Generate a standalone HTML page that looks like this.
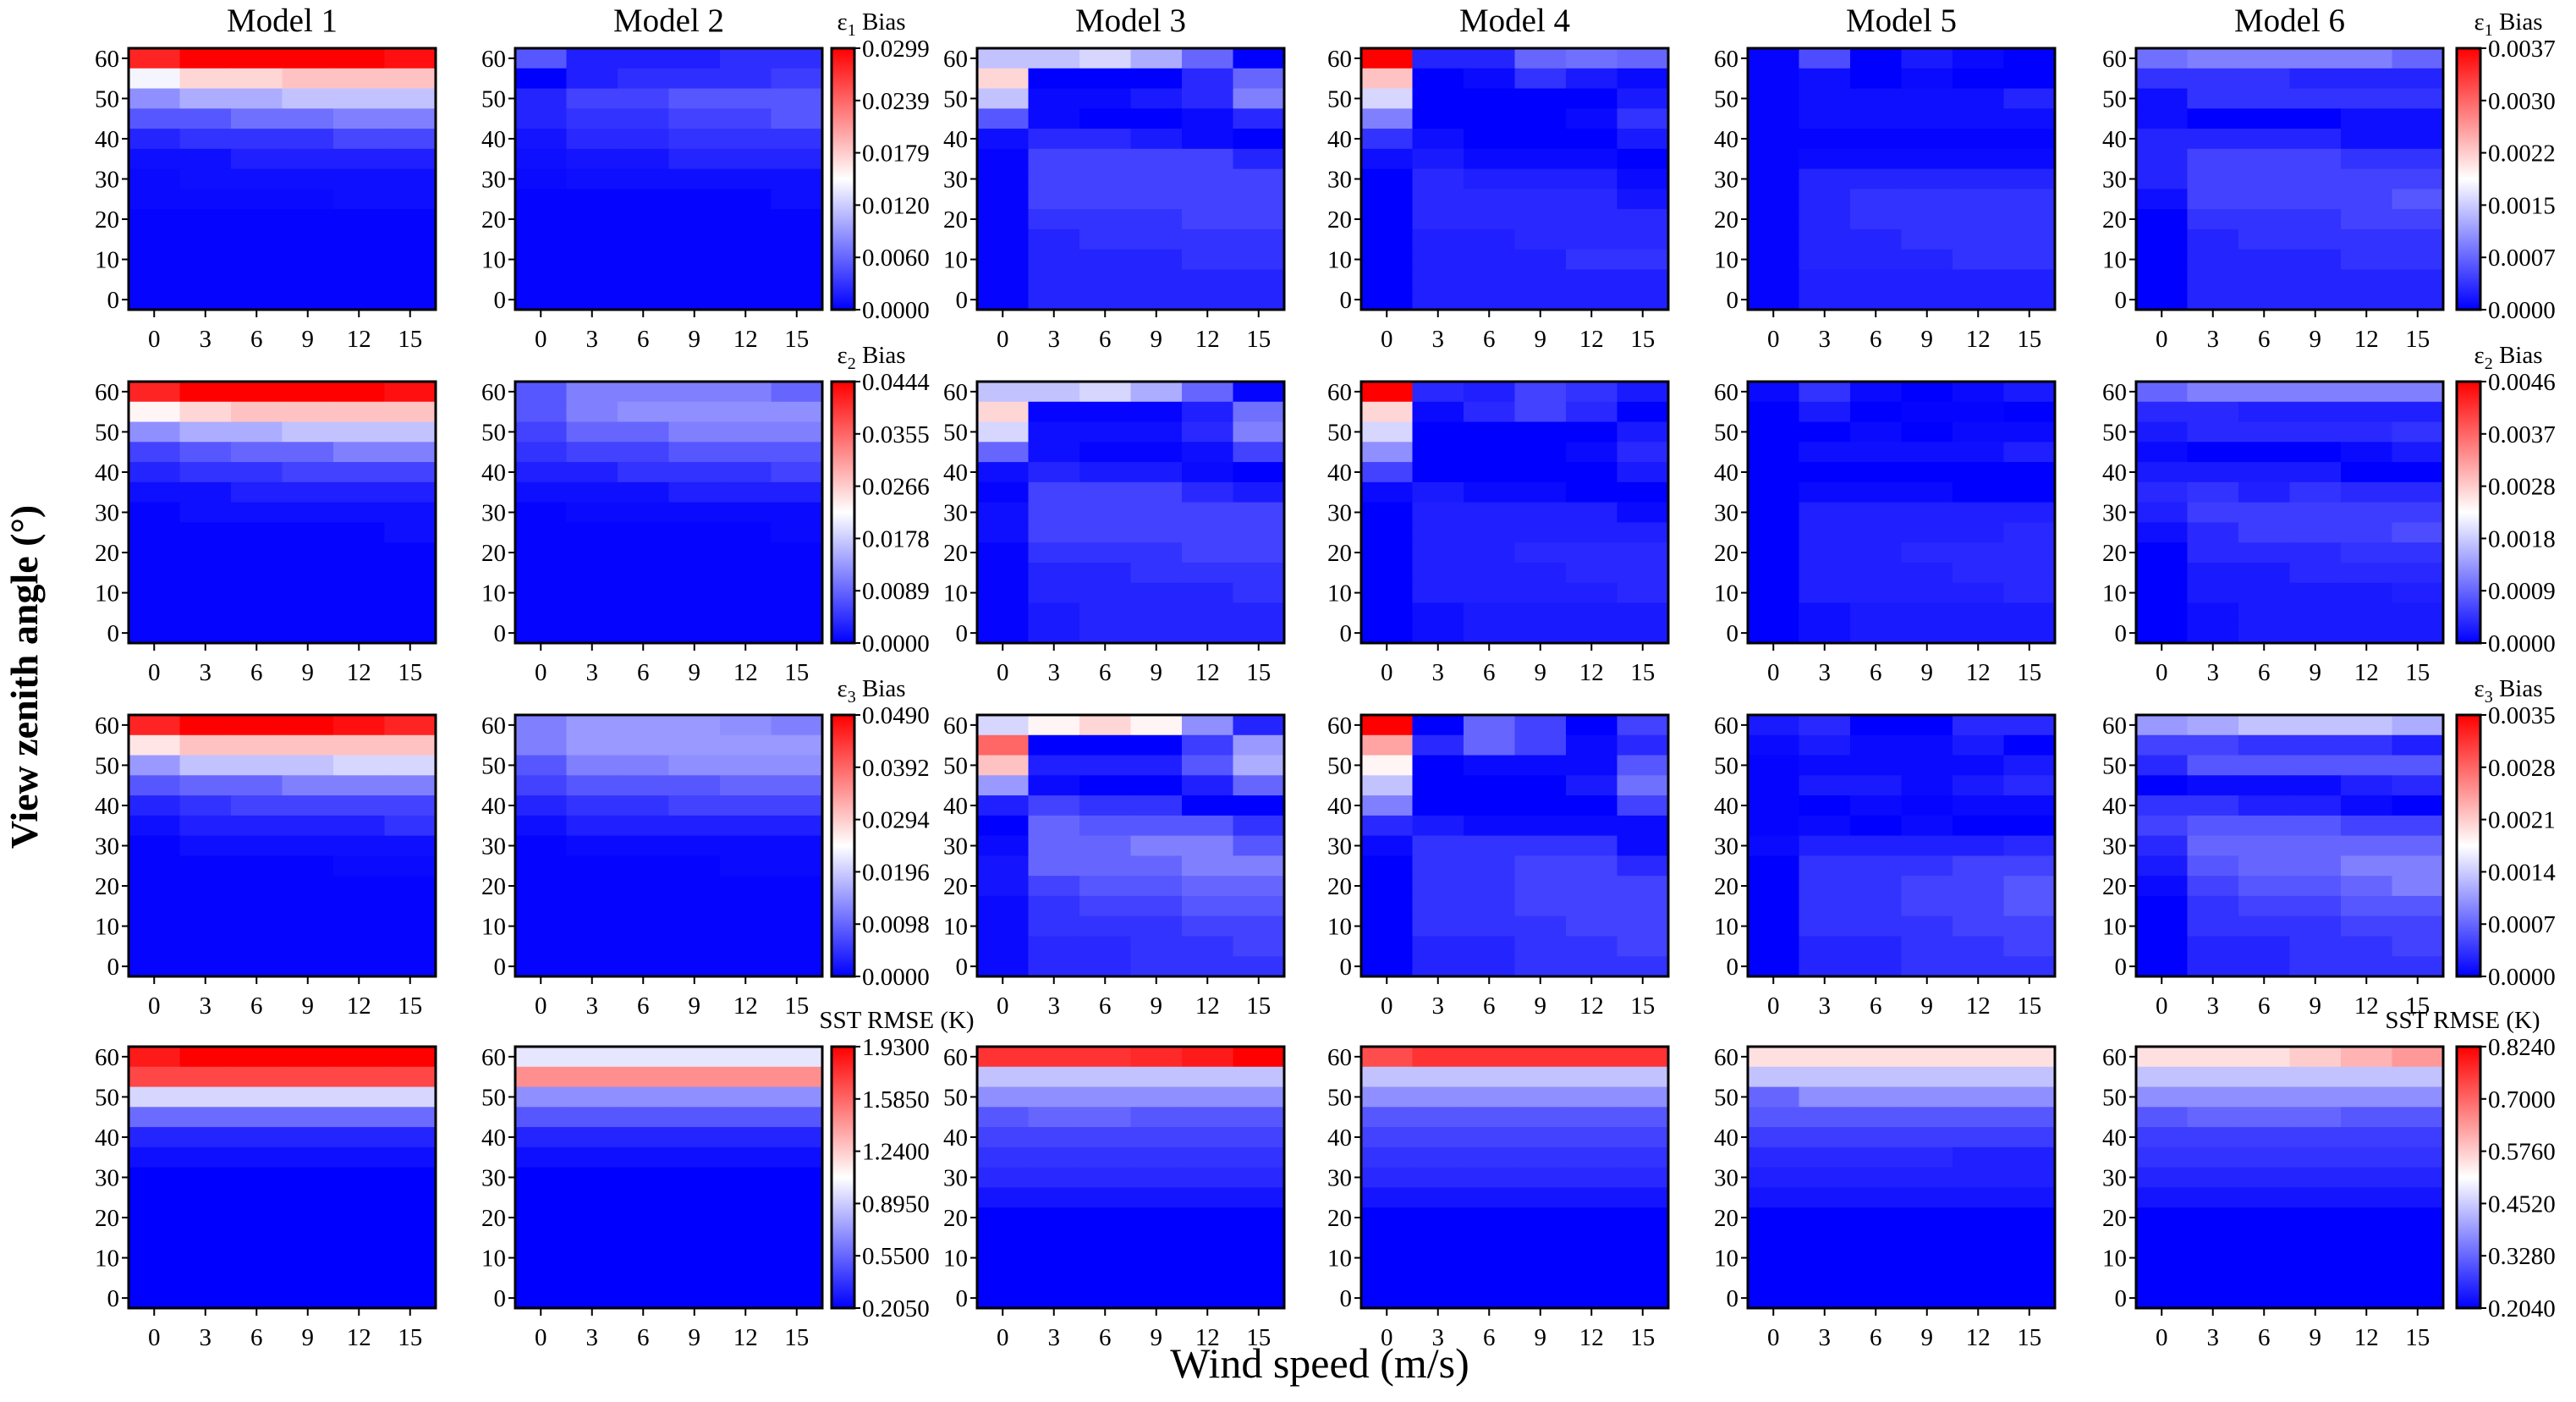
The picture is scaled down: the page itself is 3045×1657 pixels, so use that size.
<!DOCTYPE html>
<html><head><meta charset="utf-8"><style>
html,body{margin:0;padding:0;background:#fff;}
svg{display:block;font-family:"Liberation Serif",serif;}
</style></head><body>
<svg id="fig" width="3045" height="1657" viewBox="0 0 3045 1657" xmlns="http://www.w3.org/2000/svg">
<defs><linearGradient id="bwr" x1="0" y1="1" x2="0" y2="0"><stop offset="0" stop-color="#0000ff"/><stop offset="0.5" stop-color="#ffffff"/><stop offset="1" stop-color="#ff0000"/></linearGradient></defs>
<text x="0" y="0" transform="translate(44,800) rotate(-90)" text-anchor="middle" font-size="46" font-weight="bold">View zenith angle (°)</text>
<text x="1560" y="1628" text-anchor="middle" font-size="50">Wind speed (m/s)</text>
</svg>
<script>
const windTicks=[0,3,6,9,12,15];
const zenithTicks=[60,50,40,30,20,10,0];
const modelNames=["Model 1","Model 2","Model 3","Model 4","Model 5","Model 6"];
const rowTitles=["ε1 Bias","ε2 Bias","ε3 Bias","SST RMSE (K)"];
const leftCbarLabels=[["0.0000","0.0060","0.0120","0.0179","0.0239","0.0299"],["0.0000","0.0089","0.0178","0.0266","0.0355","0.0444"],["0.0000","0.0098","0.0196","0.0294","0.0392","0.0490"],["0.2050","0.5500","0.8950","1.2400","1.5850","1.9300"]];
const rightCbarLabels=[["0.0000","0.0007","0.0015","0.0022","0.0030","0.0037"],["0.0000","0.0009","0.0018","0.0028","0.0037","0.0046"],["0.0000","0.0007","0.0014","0.0021","0.0028","0.0035"],["0.2040","0.3280","0.4520","0.5760","0.7000","0.8240"]];
// normalized values (0=min of colorbar, 1=max); rows from zenith 60 down to 0, columns wind 0..15
const z1=[.01,.01,.01,.01,.01,.01];
const e1=[
[[.93,1,1,1,1,.97],[.48,.58,.58,.62,.62,.62],[.28,.34,.34,.38,.38,.38],[.17,.17,.22,.22,.25,.25],[.07,.1,.1,.1,.14,.14],[.03,.03,.06,.06,.06,.06],[.02,.03,.03,.03,.03,.03],[.02,.02,.02,.02,.03,.03],z1,z1,z1,z1,z1],
[[.17,.06,.06,.06,.09,.09],[0,.06,.09,.09,.09,.12],[.07,.13,.13,.17,.17,.17],[.07,.1,.1,.13,.13,.17],[.04,.08,.08,.1,.1,.1],[.03,.04,.04,.07,.07,.07],[.02,.03,.03,.03,.03,.03],[.01,.01,.01,.01,.01,.03],z1,z1,z1,z1,z1],
[[.38,.38,.42,.34,.2,0],[.58,0,0,0,.08,.2],[.38,.02,.02,.05,.08,.25],[.17,.02,0,0,.02,.08],[.03,.08,.08,.05,.02,0],[.01,.13,.13,.13,.13,.07],[.01,.13,.13,.13,.13,.13],[.01,.13,.13,.13,.13,.13],[.01,.1,.1,.1,.13,.13],[.01,.07,.1,.1,.1,.1],[.01,.07,.07,.07,.1,.1],[.01,.07,.07,.07,.07,.07],[.01,.07,.07,.07,.07,.07]],
[[1,.07,.07,.2,.22,.2],[.62,0,.02,.1,.05,.02],[.42,0,0,0,0,.05],[.25,0,0,0,.02,.1],[.1,.03,0,0,0,.05],[.03,.05,.02,.02,.02,0],[0,.08,.06,.06,.06,.02],[0,.08,.08,.08,.08,.04],[0,.08,.08,.08,.08,.08],[0,.06,.06,.08,.08,.08],[0,.06,.06,.06,.1,.1],[0,.06,.06,.06,.06,.06],[0,.06,.06,.06,.06,.06]],
[[.01,.15,0,.05,.02,0],[.01,.03,0,.02,0,0],[.01,.03,.03,.03,.03,.07],[.01,.03,.03,.03,.03,.03],[.01,.01,.01,.01,.01,.01],[.01,.02,.02,.02,.02,.02],[.01,.07,.07,.07,.07,.07],[.01,.07,.1,.1,.1,.1],[.01,.07,.1,.1,.1,.1],[.01,.07,.07,.1,.1,.1],[.01,.07,.07,.07,.1,.1],[.01,.06,.06,.06,.06,.06],[.01,.06,.06,.06,.06,.06]],
[[.22,.25,.25,.25,.25,.2],[.1,.1,.1,.07,.07,.07],[.03,.1,.1,.1,.1,.1],[.03,0,0,0,.03,.03],[.07,.07,.07,.07,.03,.03],[.07,.13,.13,.13,.1,.1],[.07,.13,.13,.13,.13,.13],[.03,.13,.13,.13,.13,.17],[0,.1,.1,.1,.13,.13],[0,.07,.1,.1,.1,.1],[0,.07,.07,.07,.1,.1],[0,.07,.07,.07,.07,.07],[0,.07,.07,.07,.07,.07]]
];
const e2=[
[[.93,1,1,1,1,.97],[.52,.58,.62,.62,.62,.62],[.28,.34,.34,.38,.38,.38],[.13,.17,.2,.2,.25,.25],[.07,.1,.1,.13,.13,.13],[.03,.03,.06,.06,.06,.06],[.01,.03,.03,.03,.03,.03],[.01,.01,.01,.01,.01,.03],z1,z1,z1,z1,z1],
[[.17,.25,.25,.25,.25,.2],[.17,.25,.28,.28,.28,.28],[.13,.2,.2,.25,.25,.25],[.1,.13,.13,.17,.17,.17],[.06,.06,.1,.1,.1,.13],[.03,.03,.03,.06,.06,.06],[.01,.02,.02,.02,.02,.02],[.01,.01,.01,.01,.01,.02],z1,z1,z1,z1,z1],
[[.38,.38,.42,.34,.2,.01],[.58,.01,.01,.01,.06,.22],[.42,.03,.03,.03,.08,.25],[.2,.03,.01,.01,.03,.13],[.03,.07,.05,.05,.02,0],[.01,.13,.13,.13,.08,.05],[.03,.13,.13,.13,.13,.13],[.03,.13,.13,.13,.13,.13],[.01,.1,.1,.1,.13,.13],[.01,.07,.07,.1,.1,.1],[.01,.07,.07,.07,.07,.1],[.01,.05,.07,.07,.07,.07],[.01,.05,.07,.07,.07,.07]],
[[1,.08,.06,.13,.1,.05],[.58,.02,.08,.13,.08,0],[.42,0,0,0,0,.05],[.28,0,0,0,.02,.08],[.13,0,0,0,0,.05],[.02,.05,.02,.02,0,0],[0,.06,.06,.06,.06,.02],[0,.06,.06,.06,.06,.06],[0,.06,.06,.08,.08,.08],[0,.06,.06,.06,.08,.08],[0,.06,.06,.06,.06,.08],[0,.03,.05,.05,.05,.05],[0,.03,.05,.05,.05,.05]],
[[.02,.1,.02,0,.02,.05],[0,.05,0,.01,.01,0],[0,0,.02,0,.02,.02],[0,.03,.03,.03,.03,.06],[0,0,0,0,0,0],[0,.02,.02,.02,0,0],[0,.06,.06,.06,.06,.06],[0,.06,.06,.06,.06,.08],[0,.06,.06,.08,.08,.08],[0,.06,.06,.06,.08,.08],[0,.06,.06,.06,.06,.08],[0,.03,.05,.05,.05,.05],[0,.03,.05,.05,.05,.05]],
[[.2,.25,.25,.25,.25,.25],[.08,.08,.06,.06,.06,.06],[.05,.08,.08,.08,.08,.1],[.02,0,0,0,.02,.05],[.05,.05,.05,.05,0,0],[.08,.1,.06,.1,.08,.08],[.06,.12,.12,.12,.12,.12],[.03,.08,.12,.12,.12,.15],[0,.08,.08,.08,.1,.1],[0,.05,.05,.08,.08,.08],[0,.05,.05,.05,.05,.06],[0,.03,.05,.05,.05,.05],[0,.03,.05,.05,.05,.05]]
];
const e3=[
[[.93,1,1,1,.97,.93],[.55,.62,.62,.62,.62,.62],[.3,.38,.38,.38,.42,.42],[.17,.2,.2,.25,.25,.25],[.07,.1,.13,.13,.13,.13],[.03,.06,.06,.06,.06,.1],[.01,.03,.03,.03,.03,.03],[.01,.01,.01,.01,.02,.02],z1,z1,z1,z1,z1],
[[.25,.3,.3,.3,.28,.25],[.25,.3,.3,.3,.3,.3],[.17,.25,.25,.28,.28,.28],[.13,.17,.17,.17,.2,.2],[.07,.1,.1,.13,.13,.13],[.03,.06,.06,.06,.06,.06],[.01,.02,.02,.02,.02,.02],[.01,.01,.01,.01,.02,.02],z1,z1,z1,z1,z1],
[[.42,.52,.58,.52,.28,.07],[.8,0,0,0,.12,.3],[.62,.06,.06,.06,.17,.34],[.3,.02,0,0,.06,.2],[.06,.13,.1,.1,0,0],[0,.2,.17,.17,.17,.1],[.02,.2,.2,.25,.25,.17],[.04,.2,.2,.2,.25,.25],[.04,.13,.17,.17,.2,.2],[.02,.1,.13,.13,.17,.17],[.02,.1,.1,.1,.13,.13],[.02,.08,.08,.1,.1,.13],[.02,.08,.08,.1,.1,.1]],
[[1,0,.2,.13,0,.13],[.68,.08,.2,.13,.02,.08],[.52,0,.02,.02,.02,.17],[.38,0,0,0,.05,.22],[.25,0,0,0,0,.13],[.08,.05,.02,.02,.02,.02],[.02,.1,.1,.1,.1,.02],[0,.1,.1,.13,.13,.08],[0,.1,.1,.13,.13,.13],[0,.1,.1,.13,.13,.13],[0,.1,.1,.1,.13,.13],[0,.07,.07,.1,.1,.13],[0,.07,.07,.1,.1,.1]],
[[.05,.08,0,0,.08,.08],[.02,.05,.02,.02,.05,0],[.01,.02,.02,.02,.02,.05],[.01,.05,.05,.02,.05,.08],[.01,0,.02,.01,.02,.02],[.01,.02,0,.02,0,0],[.02,.06,.06,.06,.06,.08],[0,.1,.1,.1,.13,.13],[0,.1,.1,.13,.13,.17],[0,.1,.1,.13,.13,.17],[0,.1,.1,.1,.13,.13],[0,.07,.07,.1,.1,.13],[0,.07,.07,.1,.1,.1]],
[[.3,.33,.38,.38,.38,.34],[.13,.13,.1,.1,.1,.06],[.08,.17,.17,.17,.17,.17],[0,.02,.02,.02,.06,.08],[.1,.1,.06,.06,.02,0],[.13,.17,.17,.17,.13,.13],[.08,.2,.2,.2,.2,.2],[.05,.17,.2,.2,.25,.25],[.02,.13,.17,.17,.2,.25],[0,.1,.13,.13,.17,.17],[0,.1,.1,.1,.13,.13],[0,.07,.07,.1,.1,.13],[0,.07,.07,.1,.1,.1]]
];
const z0=[0,0,0,0,0,0];
const rmse=[
[[.95,1,1,1,1,1],[.86,.86,.86,.86,.86,.86],[.42,.42,.42,.42,.42,.42],[.21,.21,.21,.21,.21,.21],[.07,.07,.07,.07,.07,.07],[.03,.03,.03,.03,.03,.03],z0,z0,z0,z0,z0,z0,z0],
[[.45,.45,.45,.45,.45,.45],[.72,.72,.72,.72,.72,.72],[.28,.28,.28,.28,.28,.28],[.17,.17,.17,.17,.17,.17],[.07,.07,.07,.07,.07,.07],[.03,.03,.03,.03,.03,.03],z0,z0,z0,z0,z0,z0,z0],
[[.9,.9,.9,.92,.95,1],[.38,.38,.38,.38,.38,.38],[.28,.28,.28,.28,.28,.28],[.17,.2,.2,.17,.17,.17],[.13,.13,.13,.13,.13,.13],[.1,.1,.1,.1,.1,.1],[.08,.08,.08,.08,.08,.08],[.04,.04,.04,.04,.04,.04],z0,z0,z0,z0,z0],
[[.85,.9,.9,.9,.9,.9],[.38,.38,.38,.38,.38,.38],[.28,.28,.28,.28,.28,.28],[.17,.17,.17,.17,.17,.17],[.13,.13,.13,.13,.13,.13],[.1,.1,.1,.1,.1,.1],[.08,.08,.08,.08,.08,.08],[.04,.04,.04,.04,.04,.04],z0,z0,z0,z0,z0],
[[.56,.56,.56,.56,.56,.56],[.38,.38,.38,.38,.38,.38],[.2,.28,.28,.28,.28,.28],[.17,.17,.17,.17,.17,.17],[.12,.12,.12,.12,.12,.12],[.08,.08,.08,.08,.06,.06],[.06,.06,.06,.06,.06,.06],[.04,.04,.04,.04,.04,.04],z0,z0,z0,z0,z0],
[[.56,.56,.56,.6,.65,.7],[.38,.38,.38,.38,.38,.38],[.28,.28,.28,.28,.28,.28],[.17,.2,.2,.2,.17,.17],[.12,.12,.12,.12,.12,.12],[.1,.1,.1,.1,.1,.1],[.07,.07,.07,.07,.07,.07],[.04,.04,.04,.04,.04,.04],z0,z0,z0,z0,z0]
];
const allRows=[e1,e2,e3,rmse];

const NS="http://www.w3.org/2000/svg";
const svg=document.getElementById("fig");
const colX=[152,609,1155,1609,2066,2525], PW=363;
const rowY=[57,451,845,1237], PH=309;
const NR=13, NC=6;
function mk(tag,attrs,parent){const e=document.createElementNS(NS,tag);for(const k in attrs)e.setAttribute(k,attrs[k]);(parent||svg).appendChild(e);return e;}
function color(f){f=Math.max(0,Math.min(1,f));let r,g,b;if(f<0.5){r=g=Math.round(f*2*255);b=255;}else{r=255;g=b=Math.round((2-2*f)*255);}return `rgb(${r},${g},${b})`;}
function xScale(c,x0){return x0+c*PW/NC;}
function yScale(zen,y0){return y0+(60-zen)/5*PH/NR;}

allRows.forEach((row,ri)=>{
  row.forEach((panel,pi)=>{
    const x0=colX[pi], y0=rowY[ri];
    const g=mk("g",{});
    
    
    panel.forEach((vals,r)=>{
      const zen=60-r*5;
      vals.forEach((v,c)=>{
        const x=xScale(c,x0), y=yScale(zen,y0);
        const rc=mk("rect",{x:x.toFixed(2),y:y.toFixed(2),width:(PW/NC+0.6).toFixed(2),height:(PH/NR+0.6).toFixed(2),fill:color(v)},g);
        
        
      });
    });
    const fr=mk("rect",{x:x0,y:y0,width:PW,height:PH,fill:"none",stroke:"#000","stroke-width":3},g);
    
    
    zenithTicks.forEach(t=>{
      const y=yScale(t,y0)+PH/NR/2;
      mk("line",{x1:x0-8,x2:x0,y1:y,y2:y,stroke:"#000","stroke-width":2},g);
      const tx=mk("text",{x:x0-11,y:y+10,"text-anchor":"end","font-size":29},g);
      tx.textContent=t;
      
      
    });
    windTicks.forEach((t,c)=>{
      const x=xScale(c,x0)+PW/NC/2;
      mk("line",{x1:x,x2:x,y1:y0+PH,y2:y0+PH+9,stroke:"#000","stroke-width":2},g);
      const tx=mk("text",{x:x,y:y0+PH+44,"text-anchor":"middle","font-size":29},g);
      tx.textContent=t;
      
      
    });
    if(ri===0){
      const tt=mk("text",{x:x0+PW/2,y:y0-20,"text-anchor":"middle","font-size":39},g);
      tt.textContent=modelNames[pi];
      
      
    }
  });
  [[983,leftCbarLabels[ri],27],[2904,rightCbarLabels[ri],28]].forEach(([cx,labels,cw],side)=>{
    const y0=rowY[ri];
    const g=mk("g",{});
    
    
    mk("rect",{x:cx,y:y0,width:cw,height:PH,fill:"url(#bwr)",stroke:"#000","stroke-width":3},g);
    labels.forEach((l,i)=>{
      const y=y0+PH-i*PH/(labels.length-1);
      mk("line",{x1:cx+cw,x2:cx+cw+7,y1:y,y2:y,stroke:"#000","stroke-width":2},g);
      const tx=mk("text",{x:cx+cw+9,y:y+10,"font-size":29},g);
      tx.textContent=l;
      
      
    });
    const title=rowTitles[ri];
    let tcx;
    if(ri<3) tcx = side ? cx+cw+33 : cx+cw+20;
    else tcx = side ? 2911 : 1060;
    const tt=mk("text",{x:tcx,y:y0-22,"text-anchor":"middle","font-size":29},g);
    if(ri<3){
      const a=document.createElementNS(NS,"tspan");a.textContent="ε";tt.appendChild(a);
      const b=document.createElementNS(NS,"tspan");b.setAttribute("font-size","20");b.setAttribute("dy","7");b.textContent=String(ri+1);tt.appendChild(b);
      const c=document.createElementNS(NS,"tspan");c.setAttribute("dy","-7");c.textContent=" Bias";tt.appendChild(c);
    } else tt.textContent=title;
    
    
  });
});
</script>
</body></html>
